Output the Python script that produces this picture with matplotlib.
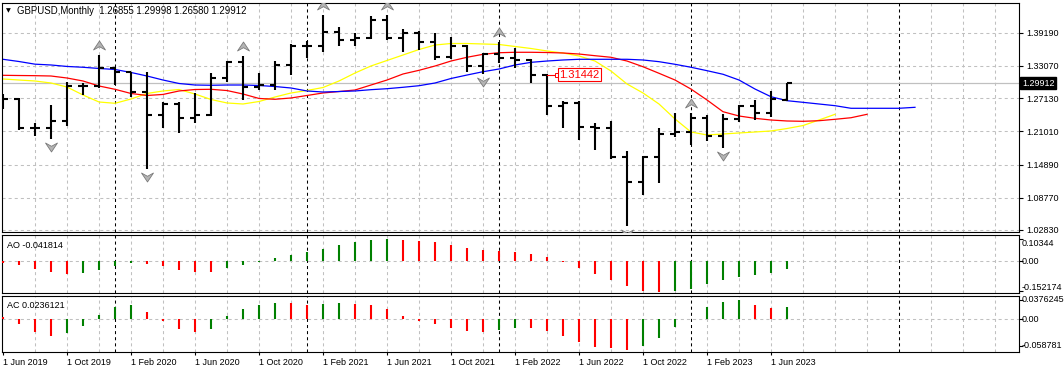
import numpy as np
import matplotlib
matplotlib.use('Agg')
import matplotlib.pyplot as plt
import matplotlib.transforms as mtransforms
from matplotlib.path import Path

plt.rcParams['font.family'] = ['Liberation Sans', 'DejaVu Sans']
plt.rcParams['lines.scale_dashes'] = False

W, H = 1064, 372

# GBPUSD monthly bars, Jun 2019 .. Jul 2023
opens = [1.2626, 1.2697, 1.2155, 1.2161, 1.2293, 1.2944, 1.2934, 1.3261, 1.3200, 1.2823,
         1.2404, 1.2596, 1.2347, 1.2402, 1.3092, 1.3373, 1.2915, 1.2946, 1.3325, 1.3671,
         1.3673, 1.3923, 1.3785, 1.3818, 1.4150, 1.3828, 1.3905, 1.3756, 1.3472, 1.3683,
         1.3300, 1.3531, 1.3447, 1.3415, 1.3144, 1.2573, 1.2627, 1.2177, 1.2167, 1.1620,
         1.1168, 1.1622, 1.2053, 1.2097, 1.2340, 1.2024, 1.2335, 1.2565, 1.2443, 1.26855]
highs = [1.2784, 1.2710, 1.2249, 1.2582, 1.3013, 1.2986, 1.3515, 1.3285, 1.3200, 1.3200,
         1.2648, 1.2644, 1.2813, 1.3170, 1.3399, 1.3483, 1.3177, 1.3398, 1.3703, 1.3758,
         1.4241, 1.4017, 1.3919, 1.4235, 1.4249, 1.3984, 1.3958, 1.3913, 1.3834, 1.3698,
         1.3549, 1.3749, 1.3644, 1.3438, 1.3167, 1.2667, 1.2666, 1.2246, 1.2294, 1.1738,
         1.1646, 1.2155, 1.2447, 1.2448, 1.2401, 1.2424, 1.2584, 1.2680, 1.2848, 1.29998]
lows = [1.2506, 1.2119, 1.2015, 1.1959, 1.2196, 1.2769, 1.2905, 1.2953, 1.2725, 1.1410,
        1.2165, 1.2076, 1.2252, 1.2381, 1.3005, 1.2676, 1.2855, 1.2854, 1.3134, 1.3451,
        1.3566, 1.3670, 1.3669, 1.3800, 1.3787, 1.3572, 1.3602, 1.3412, 1.3434, 1.3195,
        1.3161, 1.3358, 1.3273, 1.3000, 1.2411, 1.2155, 1.1934, 1.1760, 1.1600, 1.0350,
        1.0924, 1.1143, 1.1992, 1.1841, 1.1915, 1.1803, 1.2275, 1.2308, 1.2369, 1.26580]
closes = [1.2697, 1.2159, 1.2161, 1.2293, 1.2944, 1.2934, 1.3261, 1.3200, 1.2823, 1.2404,
          1.2596, 1.2347, 1.2402, 1.3092, 1.3373, 1.2915, 1.2946, 1.3325, 1.3671, 1.3673,
          1.3923, 1.3785, 1.3818, 1.4150, 1.3828, 1.3905, 1.3756, 1.3472, 1.3683, 1.3300,
          1.3531, 1.3447, 1.3415, 1.3138, 1.2573, 1.2627, 1.2177, 1.2167, 1.1620, 1.1168,
          1.1622, 1.2053, 1.2097, 1.2340, 1.2024, 1.2335, 1.2565, 1.2443, 1.2702, 1.29912]

# alligator lines (they run past the last bar)
lips = [1.3066, 1.3047, 1.3029, 1.2992, 1.2918, 1.2771, 1.2642, 1.2618, 1.2697, 1.2799,
        1.2845, 1.2872, 1.2789, 1.2688, 1.2624, 1.2605, 1.2651, 1.2734, 1.2808, 1.2854,
        1.2909, 1.3029, 1.3176, 1.3306, 1.3407, 1.3508, 1.3609, 1.3692, 1.3720, 1.3720,
        1.3711, 1.3702, 1.3665, 1.3628, 1.3582, 1.3545, 1.3490, 1.3397, 1.3213, 1.2974,
        1.2808, 1.2605, 1.2329, 1.2089, 1.2034, 1.2052, 1.2071, 1.2089, 1.2108, 1.2153,
        1.2208, 1.2310, 1.2415]
teeth = [1.3134, 1.3130, 1.3127, 1.3121, 1.3084, 1.3029, 1.2937, 1.2876, 1.2799, 1.2762,
         1.2781, 1.2845, 1.2872, 1.2876, 1.2853, 1.2789, 1.2707, 1.2692, 1.2716, 1.2762,
         1.2808, 1.2835, 1.2863, 1.2955, 1.3047, 1.3158, 1.3226, 1.3305, 1.3397, 1.3466,
         1.3521, 1.3550, 1.3558, 1.3558, 1.3554, 1.3545, 1.3526, 1.3495, 1.3466, 1.3397,
         1.3292, 1.3171, 1.3047, 1.2880, 1.2679, 1.2463, 1.2384, 1.2341, 1.2310, 1.2292,
         1.2286, 1.2297, 1.2323, 1.2352, 1.2415]
jaw = [1.3429, 1.3388, 1.3339, 1.3324, 1.3297, 1.3282, 1.3260, 1.3241, 1.3186, 1.3121,
       1.3047, 1.2983, 1.2955, 1.2950, 1.2955, 1.2955, 1.2946, 1.2927, 1.2900, 1.2845,
       1.2826, 1.2835, 1.2845, 1.2869, 1.2887, 1.2913, 1.2942, 1.2992, 1.3075, 1.3139,
       1.3200, 1.3250, 1.3324, 1.3373, 1.3397, 1.3416, 1.3429, 1.3429, 1.3429, 1.3429,
       1.3416, 1.3385, 1.3337, 1.3282, 1.3219, 1.3153, 1.3047, 1.2881, 1.2739, 1.2666,
       1.2636, 1.2605, 1.2574, 1.2526, 1.2526, 1.2526, 1.2526, 1.2544]

ao = [-0.010, -0.0215, -0.041, -0.054, -0.0655, -0.059, -0.046, -0.026, -0.0134, -0.0167,
      -0.026, -0.046, -0.054, -0.0555, -0.0344, -0.0215, -0.0072, 0.0105, 0.0268, 0.0397,
      0.0569, 0.0745, 0.0889, 0.0984, 0.10344, 0.0984, 0.0936, 0.0889, 0.0745, 0.0602,
      0.0506, 0.0459, 0.0411, 0.0315, 0.0186, -0.0067, -0.0344, -0.064, -0.0927, -0.1233,
      -0.1429, -0.152174, -0.1429, -0.136, -0.1137, -0.0941, -0.0798, -0.0702, -0.0602, -0.041814]
ac = [0.0047, -0.0091, -0.0248, -0.0328, -0.0262, -0.0132, 0.0085, 0.0243, 0.0281, 0.0144,
      -0.0033, -0.019, -0.0248, -0.019, 0.0066, 0.0204, 0.0281, 0.0322, 0.0318, 0.0281,
      0.0303, 0.0322, 0.0303, 0.0281, 0.0204, 0.0066, -0.0033, -0.0091, -0.0171, -0.0229,
      -0.0248, -0.0204, -0.0171, -0.0175, -0.0229, -0.0328, -0.0446, -0.0537, -0.0563, -0.058781,
      -0.0524, -0.0361, -0.0144, 0.001, 0.0243, 0.0341, 0.0376245, 0.0281, 0.021, 0.0236121]

fractal_up = [6, 15, 20, 24, 31, 43]
fractal_down = [3, 9, 30, 39, 45]

price_ticks = [1.39190, 1.33070, 1.27130, 1.21010, 1.14890, 1.08770, 1.02830]
date_ticks = [0, 4, 8, 12, 16, 20, 24, 28, 32, 36, 40, 44, 48]
date_labels = ['1 Jun 2019', '1 Oct 2019', '1 Feb 2020', '1 Jun 2020', '1 Oct 2020',
               '1 Feb 2021', '1 Jun 2021', '1 Oct 2021', '1 Feb 2022', '1 Jun 2022',
               '1 Oct 2022', '1 Feb 2023', '1 Jun 2023']
separators = [7, 19, 31, 43, 56]
bid = 1.29912
marked_bar, marked_price = 34, 1.31442

#%%
fig = plt.figure(figsize=(W / 100, H / 100), dpi=100)
fig.patch.set_facecolor('white')

def pane(top, bottom):
    return fig.add_axes([2 / W, 1 - bottom / H, 1017 / W, (bottom - top) / H])

ax = pane(3, 232)
ax_ao = pane(235, 293)
ax_ac = pane(296, 352)

FS = 6.5
grid_kw = dict(color='#c0c0c0', lw=0.75, ls=(0, (2.2, 2.2)), zorder=0)
sep_kw = dict(color='black', lw=0.75, ls=(0, (2.2, 2.2)), zorder=1)

for a in (ax, ax_ao, ax_ac):
    a.set_xlim(-0.0625, 63.5)
    for s in a.spines.values():
        s.set_linewidth(0.8)
        s.set_color('black')
    for k in range(2, 64, 2):
        if k not in separators:
            a.axvline(k, **grid_kw)
    for k in separators:
        a.axvline(k, **sep_kw)
    a.tick_params(axis='x', bottom=False, labelbottom=False)
    a.yaxis.tick_right()
    a.tick_params(axis='y', length=3, width=0.8, pad=2, labelsize=FS, colors='black')

# main pane
ax.set_ylim(1.0246, 1.44664)
ax.set_yticks(price_ticks)
ax.set_yticklabels(['%.5f' % p for p in price_ticks])
for p in price_ticks:
    ax.axhline(p, **grid_kw)
ax.axhline(bid, color='#c0c0c0', lw=0.9, zorder=1)

ax.plot(range(len(lips)), lips, color='#ffff00', lw=0.9, zorder=2)
ax.plot(range(len(teeth)), teeth, color='#ff0000', lw=0.9, zorder=2)
ax.plot(range(len(jaw)), jaw, color='#0000ff', lw=0.9, zorder=2)

idx = np.arange(len(opens))
ax.vlines(idx, lows, highs, color='black', lw=1.5, zorder=3)
ax.hlines(opens, idx - 0.3, idx, color='black', lw=1.5, zorder=3)
ax.hlines(closes, idx, idx + 0.3, color='black', lw=1.5, zorder=3)

up_arrow = Path([(0, 0.75), (1, -0.75), (0, -0.2), (-1, -0.75), (0, 0.75)],
                [Path.MOVETO, Path.LINETO, Path.LINETO, Path.LINETO, Path.CLOSEPOLY])
down_arrow = Path([(0, -0.75), (1, 0.75), (0, 0.2), (-1, 0.75), (0, -0.75)],
                  [Path.MOVETO, Path.LINETO, Path.LINETO, Path.LINETO, Path.CLOSEPOLY])
up_tr = mtransforms.offset_copy(ax.transData, fig=fig, y=10, units='dots')
dn_tr = mtransforms.offset_copy(ax.transData, fig=fig, y=-8, units='dots')
ax.plot(fractal_up, [highs[k] for k in fractal_up], ls='none', marker=up_arrow, ms=8.6,
        mfc='#b4b4b4', mec='#7a7a7a', mew=0.6, transform=up_tr, zorder=4)
ax.plot(fractal_down, [lows[k] for k in fractal_down], ls='none', marker=down_arrow, ms=8.6,
        mfc='#b4b4b4', mec='#7a7a7a', mew=0.6, transform=dn_tr, zorder=4)

# price label on the marked bar
ax.plot([marked_bar, marked_bar + 0.62], [marked_price] * 2, color='red', lw=0.8, zorder=4)
ax.plot([marked_bar + 0.62], [marked_price], marker='s', ms=2.5, mfc='white', mec='red',
        mew=0.7, zorder=5)
ax.text(marked_bar + 0.78, marked_price, '%.5f' % marked_price, color='red', fontsize=8,
        va='center', ha='left', zorder=5,
        bbox=dict(boxstyle='square,pad=0.12', fc='white', ec='red', lw=0.8))

# AO pane
ax_ao.set_ylim(-0.1548, 0.1223)
ax_ao.axhline(0, **grid_kw)
ao_col = ['#ff0000'] + ['#008000' if ao[i] > ao[i - 1] else '#ff0000' for i in range(1, len(ao))]
ax_ao.vlines(np.arange(len(ao)), 0, ao, colors=ao_col, lw=1.5, zorder=3)
ax_ao.set_yticks([0.10344, 0, -0.1435])
ax_ao.set_yticklabels([])

# AC pane
ax_ac.set_ylim(-0.0636, 0.0450)
ax_ac.axhline(0, **grid_kw)
ac_col = ['#ff0000'] + ['#008000' if ac[i] > ac[i - 1] else '#ff0000' for i in range(1, len(ac))]
ax_ac.vlines(np.arange(len(ac)), 0, ac, colors=ac_col, lw=1.5, zorder=3)
ax_ac.set_yticks([0.0363, 0, -0.0522])
ax_ac.set_yticklabels([])

ax_ac.tick_params(axis='x', bottom=True, labelbottom=True, length=2.5, width=0.8,
                  pad=2, labelsize=FS)
ax_ac.set_xticks(date_ticks)
ax_ac.set_xticklabels(date_labels, ha='left')

# texts placed in pixel positions
def ftext(x, y, s, **kw):
    kw.setdefault('fontsize', FS)
    kw.setdefault('va', 'center')
    fig.text(x / W, 1 - y / H, s, **kw)

ftext(6, 10.5, '\u25bc', fontsize=4.5, family=['DejaVu Sans'])
ftext(17, 11, 'GBPUSD,Monthly  1.26855 1.29998 1.26580 1.29912', fontsize=6.9)
ftext(7, 245, 'AO -0.041814')
ftext(7, 305, 'AC 0.0236121')
for y, s in [(243, '0.10344'), (261, '0.00'), (288, '-0.152174'),
             (300, '0.0376245'), (319, '0.00'), (345.5, '-0.058781')]:
    ftext(1022, y, s)
ftext(1022, 83, '%.5f' % bid, color='white',
      bbox=dict(boxstyle='square,pad=0.2', fc='black', ec='black'))

fig.savefig('out.png', dpi=100, facecolor='white')
